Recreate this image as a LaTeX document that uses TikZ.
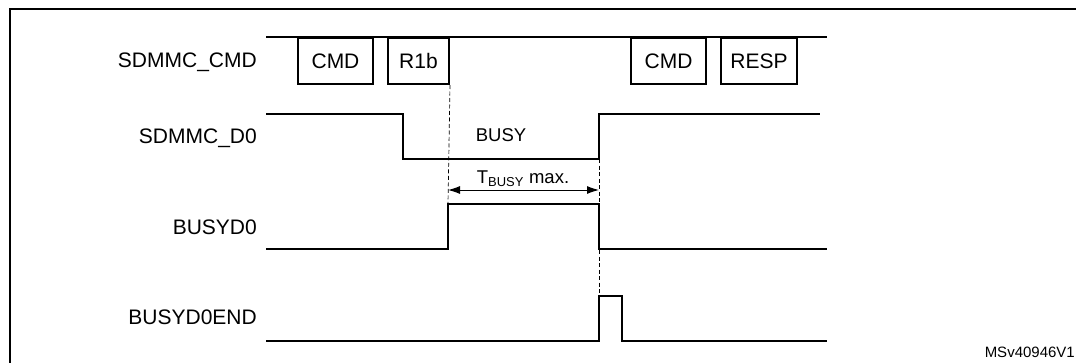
\documentclass[tikz,border=0pt]{standalone}
\usepackage{fontspec}
\setmainfont{Liberation Sans}
\usetikzlibrary{arrows.meta}

\begin{document}
\begin{tikzpicture}[
    x = 1pt, y = -1pt,
    >=Latex,
    font = \fontsize{21}{25}\selectfont,
    sig/.style={line width = 2pt, line join = miter},
    pkt/.style={
      draw,
      fill = white,
      line width = 2pt,
      minimum height = 46pt,
      anchor = north west,
      inner sep = 0pt,
    },
    lbl/.style={anchor = base east, inner sep = 0pt},
    guide/.style={line width = 0.7pt, dash pattern = on 4pt off 2.5pt},
  ]
  \useasboundingbox (0,0) rectangle (1076,362);
  \draw[line width = 2.5pt] (10,363) -- (10,9) -- (1077,9);

  % signal names
  \node[lbl] (ncmd) at (257,67.5) {SDMMC\_CMD};
  \node[lbl] (nd0) at (257,143.5) {SDMMC\_D0};
  \node[lbl] (nbusy) at (257,234.5) {BUSYD0};
  \node[lbl] (nend) at (257,324.5) {BUSYD0END};

  % command line
  \draw[sig] (266,37) -- (827,37);
  \node[pkt, minimum width = 75pt] (cmda) at (297,37) {CMD};
  \node[pkt, minimum width = 61pt] (r1b) at (387,37) {R1b};
  \node[pkt, minimum width = 75pt] (cmdb) at (630,37) {CMD};
  \node[pkt, minimum width = 76pt] (resp) at (720,37) {RESP};

  % data line 0
  \coordinate (dlow) at (599,159);
  \draw[sig] (266,114) -- (403,114) -- (403,159) -- (dlow) -- (599,114) -- (820,114);
  \node[font = \fontsize{18.5}{22}\selectfont] (busy) at (501,135) {BUSY};

  % busy flag
  \coordinate (brise) at (448,204);
  \coordinate (bfall) at (599,204);
  \draw[sig] (266,249) -- (448,249) -- (brise) -- (bfall) -- (599,249) -- (827,249);

  % end of busy
  \coordinate (pulse) at (599,296);
  \draw[sig] (266,341) -- (599,341) -- (pulse) -- (622,296) -- (622,341) -- (827,341);

  % timing
  \draw[guide] (r1b.south east) -- (brise);
  \draw[guide] (dlow) -- (pulse);
  \coordinate (ta) at (448,190);
  \coordinate (tb) at (599,190);
  \draw[{Latex[length = 12pt, width = 8pt]}-{Latex[length = 12pt, width = 8pt]}, line width = 1pt] (ta) -- (tb);
  \node[anchor = base, inner sep = 0pt, font = \fontsize{18.5}{22}\selectfont] (tbusy) at (523,183.5)
    {T\textsubscript{BUSY} max.};

  \node[anchor = base east, inner sep = 0pt, font = \fontsize{15}{18}\selectfont] (ref) at (1075,357) {MSv40946V1};
\end{tikzpicture}
\end{document}
